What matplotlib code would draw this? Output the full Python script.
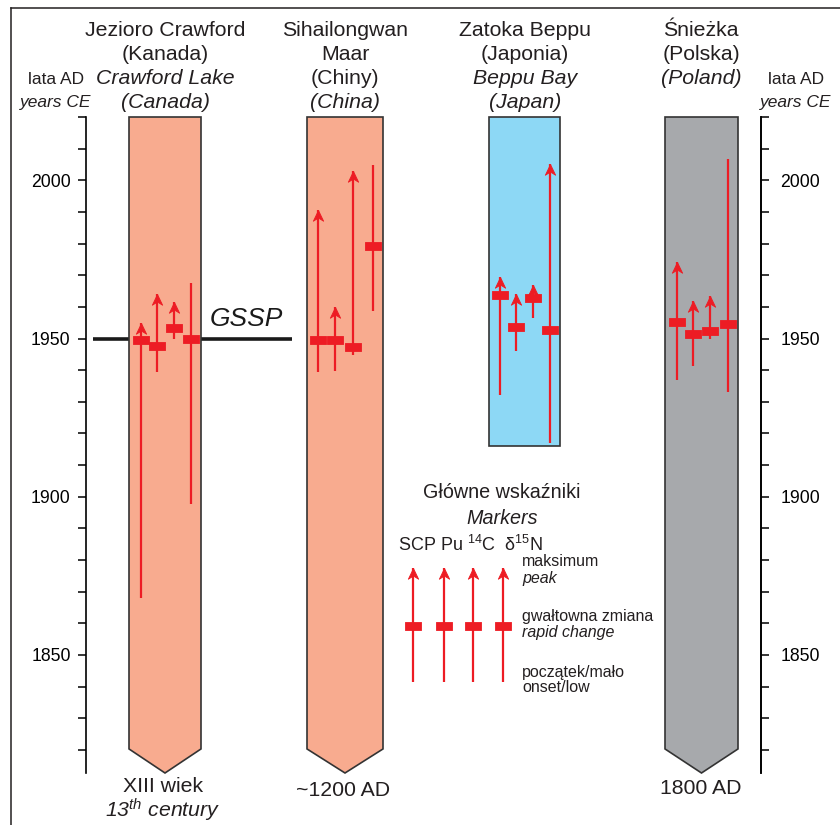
import numpy as np
import matplotlib
matplotlib.use('Agg')
import matplotlib.pyplot as plt
from matplotlib.path import Path
from matplotlib.lines import Line2D

# Daten (Jahre AD), Reihenfolge der Marker: SCP, Pu, 14C, d15N
crawford_onset = [1868.0, 1939.5, 1949.9, 1897.7]
crawford_change = [1949.5, 1947.6, 1953.4, 1949.9]
crawford_peak = [1955.0, 1964.1, 1961.5, 1967.6]
crawford_arrow = [True, True, True, False]

sihai_onset = [1939.4, 1939.8, 1944.8, 1958.7]
sihai_change = [1949.5, 1949.5, 1947.2, 1979.2]
sihai_peak = [1990.6, 1960.1, 2003.0, 2004.8]
sihai_arrow = [True, True, True, False]

beppu_onset = [1932.0, 1946.1, 1956.4, 1916.9]
beppu_change = [1963.7, 1953.6, 1962.7, 1952.7]
beppu_peak = [1969.5, 1964.1, 1966.9, 2005.1]
beppu_arrow = [True, True, True, True]

sniezka_onset = [1936.9, 1941.4, 1949.8, 1933.2]
sniezka_change = [1955.3, 1951.5, 1952.3, 1954.7]
sniezka_peak = [1974.1, 1962.0, 1963.5, 2006.6]
sniezka_arrow = [True, True, True, False]

# Beginn der Datenreihe (unteres Ende der Säule)
col_bottom = [1820.3, 1820.3, 1916.0, 1820.3]
col_pointed = [True, True, False, True]
col_top = 2020
gssp_year = 1950

# Legende
legend_onset = 1841.5
legend_change = 1859.2
legend_peak = 1877.5

yticks_major = [1850, 1900, 1950, 2000]
ymin, ymax = 1812.7, 2020.0

# Layout (Pixel, x von links)
col_x = [(129, 201), (307, 383), (489, 560), (665, 738)]
mark_x = [[141, 157, 174, 191], [318, 335, 353, 373],
          [500, 516, 533, 550], [677, 693, 710, 728]]
legend_x = [413, 444, 473, 503]
col_colors = ['#F8AB8F', '#F8AB8F', '#8DD8F5', '#A7A9AC']
red = '#ED1C24'

W, H = 840, 825

plt.rcParams['font.family'] = ['Liberation Sans', 'DejaVu Sans']
plt.rcParams['mathtext.fontset'] = 'custom'
plt.rcParams['mathtext.rm'] = 'Liberation Sans'
plt.rcParams['mathtext.it'] = 'Liberation Sans:italic'
plt.rcParams['mathtext.default'] = 'rm'


def fxy(x, y):
    # Pixel -> Figurkoordinaten
    return x / W, 1 - y / H


fig = plt.figure(figsize=(8.4, 8.25), dpi=100)
l, b = fxy(86, 773)
r, t = fxy(761, 117)
ax = fig.add_axes([l, b, r - l, t - b])
ax.set_xlim(86, 761)
ax.set_ylim(ymin, ymax)
for s in ['top', 'bottom']:
    ax.spines[s].set_visible(False)
for s in ['left', 'right']:
    ax.spines[s].set_linewidth(1.2)
ax.set_xticks([])
ax.set_yticks(np.arange(1820, 2021, 10), minor=True)
ax.set_yticks(yticks_major)
ax.set_yticklabels([str(v) for v in yticks_major])
ax.tick_params(axis='y', which='both', direction='out', length=6, width=1.1,
               labelsize=12.7, pad=5, left=True, right=False)
ax.set_facecolor('none')

ax2 = ax.twinx()
ax2.set_ylim(ymin, ymax)
for s in ['top', 'bottom', 'left']:
    ax2.spines[s].set_visible(False)
ax2.spines['right'].set_linewidth(1.2)
ax2.set_yticks(np.arange(1820, 2021, 10), minor=True)
ax2.set_yticks(yticks_major)
ax2.set_yticklabels([str(v) for v in yticks_major])
ax2.tick_params(axis='y', which='both', direction='out', length=6, width=1.1,
                labelsize=12.7, pad=8)
ax2.set_zorder(0)

# Marker-Formen
arrow_head = Path([(0, 0), (0.48, -1), (0, -0.7), (-0.48, -1), (0, 0)],
                  [Path.MOVETO, Path.LINETO, Path.LINETO, Path.LINETO, Path.CLOSEPOLY])
bar = Path([(-1, -0.47), (1, -0.47), (1, 0.47), (-1, 0.47), (-1, -0.47)],
           [Path.MOVETO, Path.LINETO, Path.LINETO, Path.LINETO, Path.CLOSEPOLY])

# GSSP-Linie
ax.plot([93, 292], [gssp_year, gssp_year], color='#1a1a1a', lw=2.6, zorder=1,
        clip_on=False, solid_capstyle='butt')
ax.text(246, gssp_year + 2.3, 'GSSP', style='italic', fontsize=19,
        ha='center', va='bottom', color='#1a1a1a')

# Säulen
for i in range(4):
    x0, x1 = col_x[i]
    xc = (x0 + x1) / 2
    if col_pointed[i]:
        xs = [x0, x1, x1, xc, x0]
        ys = [col_top, col_top, col_bottom[i], ymin, col_bottom[i]]
    else:
        xs = [x0, x1, x1, x0]
        ys = [col_top, col_top, col_bottom[i], col_bottom[i]]
    ax.fill(xs, ys, facecolor=col_colors[i], edgecolor='#333333', lw=1.2,
            zorder=2, clip_on=False)


def draw_marker(x, onset, change, peak, arrow):
    ax.plot([x, x], [onset, peak], color=red, lw=1.6, zorder=3, clip_on=False,
            solid_capstyle='butt')
    if arrow:
        ax.plot([x], [peak], marker=arrow_head, ms=15.5, color=red, mew=0.6,
                zorder=4, clip_on=False)
    ax.plot([x], [change], marker=bar, ms=11, color=red, mew=0.6, zorder=4,
            clip_on=False)


all_data = [
    (crawford_onset, crawford_change, crawford_peak, crawford_arrow),
    (sihai_onset, sihai_change, sihai_peak, sihai_arrow),
    (beppu_onset, beppu_change, beppu_peak, beppu_arrow),
    (sniezka_onset, sniezka_change, sniezka_peak, sniezka_arrow),
]
for i, (on, ch, pk, ar) in enumerate(all_data):
    for j in range(4):
        draw_marker(mark_x[i][j], on[j], ch[j], pk[j], ar[j])

# Legende
for x in legend_x:
    draw_marker(x, legend_onset, legend_change, legend_peak, True)

txt = dict(ha='center', va='center', color='#231f20')
fs_title = 15.3
titles = [
    (165, ['Jezioro Crawford', '(Kanada)', 'Crawford Lake', '(Canada)']),
    (345, ['Sihailongwan', 'Maar', '(Chiny)', '(China)']),
    (525, ['Zatoka Beppu', '(Japonia)', 'Beppu Bay', '(Japan)']),
    (701, ['Śnieżka', '(Polska)', '(Poland)']),
]
italic_lines = {'Crawford Lake', '(Canada)', '(China)', 'Beppu Bay', '(Japan)', '(Poland)'}
rows = [31, 55, 79, 102]
for xc, lines in titles:
    for k, s in enumerate(lines):
        fig.text(*fxy(xc, rows[k]), s, fontsize=fs_title,
                 style='italic' if s in italic_lines else 'normal', **txt)

for xc in [56, 796]:
    fig.text(*fxy(xc, 79), 'lata AD', fontsize=12.5, **txt)
    fig.text(*fxy(xc, 102), 'years CE', fontsize=12.5, style='italic', **txt)

fig.text(*fxy(163, 786), 'XIII wiek', fontsize=15.3, **txt)
fig.text(*fxy(163, 818), r'13$\mathit{^{th}}$ century', fontsize=15.3, style='italic',
         ha='center', va='baseline', color='#231f20')
fig.text(*fxy(343, 790), '~1200 AD', fontsize=15.3, **txt)
fig.text(*fxy(701, 788), '1800 AD', fontsize=15.3, **txt)

fig.text(*fxy(502, 493), 'Główne wskaźniki', fontsize=14.2, **txt)
fig.text(*fxy(502, 518), 'Markers', fontsize=14.2, style='italic', **txt)
fig.text(*fxy(398, 551), r'SCP Pu $^{14}$C  δ$^{15}$N', fontsize=13, ha='left',
         va='baseline', color='#231f20')
tl = dict(ha='left', va='center', color='#231f20', fontsize=11.5)
fig.text(*fxy(522, 562), 'maksimum', **tl)
fig.text(*fxy(522, 579), 'peak', style='italic', **tl)
fig.text(*fxy(522, 617), 'gwałtowna zmiana', **tl)
fig.text(*fxy(522, 633), 'rapid change', style='italic', **tl)
fig.text(*fxy(522, 672), 'początek/mało', **tl)
fig.text(*fxy(522, 688), 'onset/low', **tl)

# Rahmen
fig.add_artist(Line2D([11 / W, 11 / W], [0, 1 - 8 / H], color='#231f20', lw=1.1))
fig.add_artist(Line2D([11 / W, 1], [1 - 8 / H, 1 - 8 / H], color='#231f20', lw=1.1))

fig.savefig('out.png', dpi=100)
